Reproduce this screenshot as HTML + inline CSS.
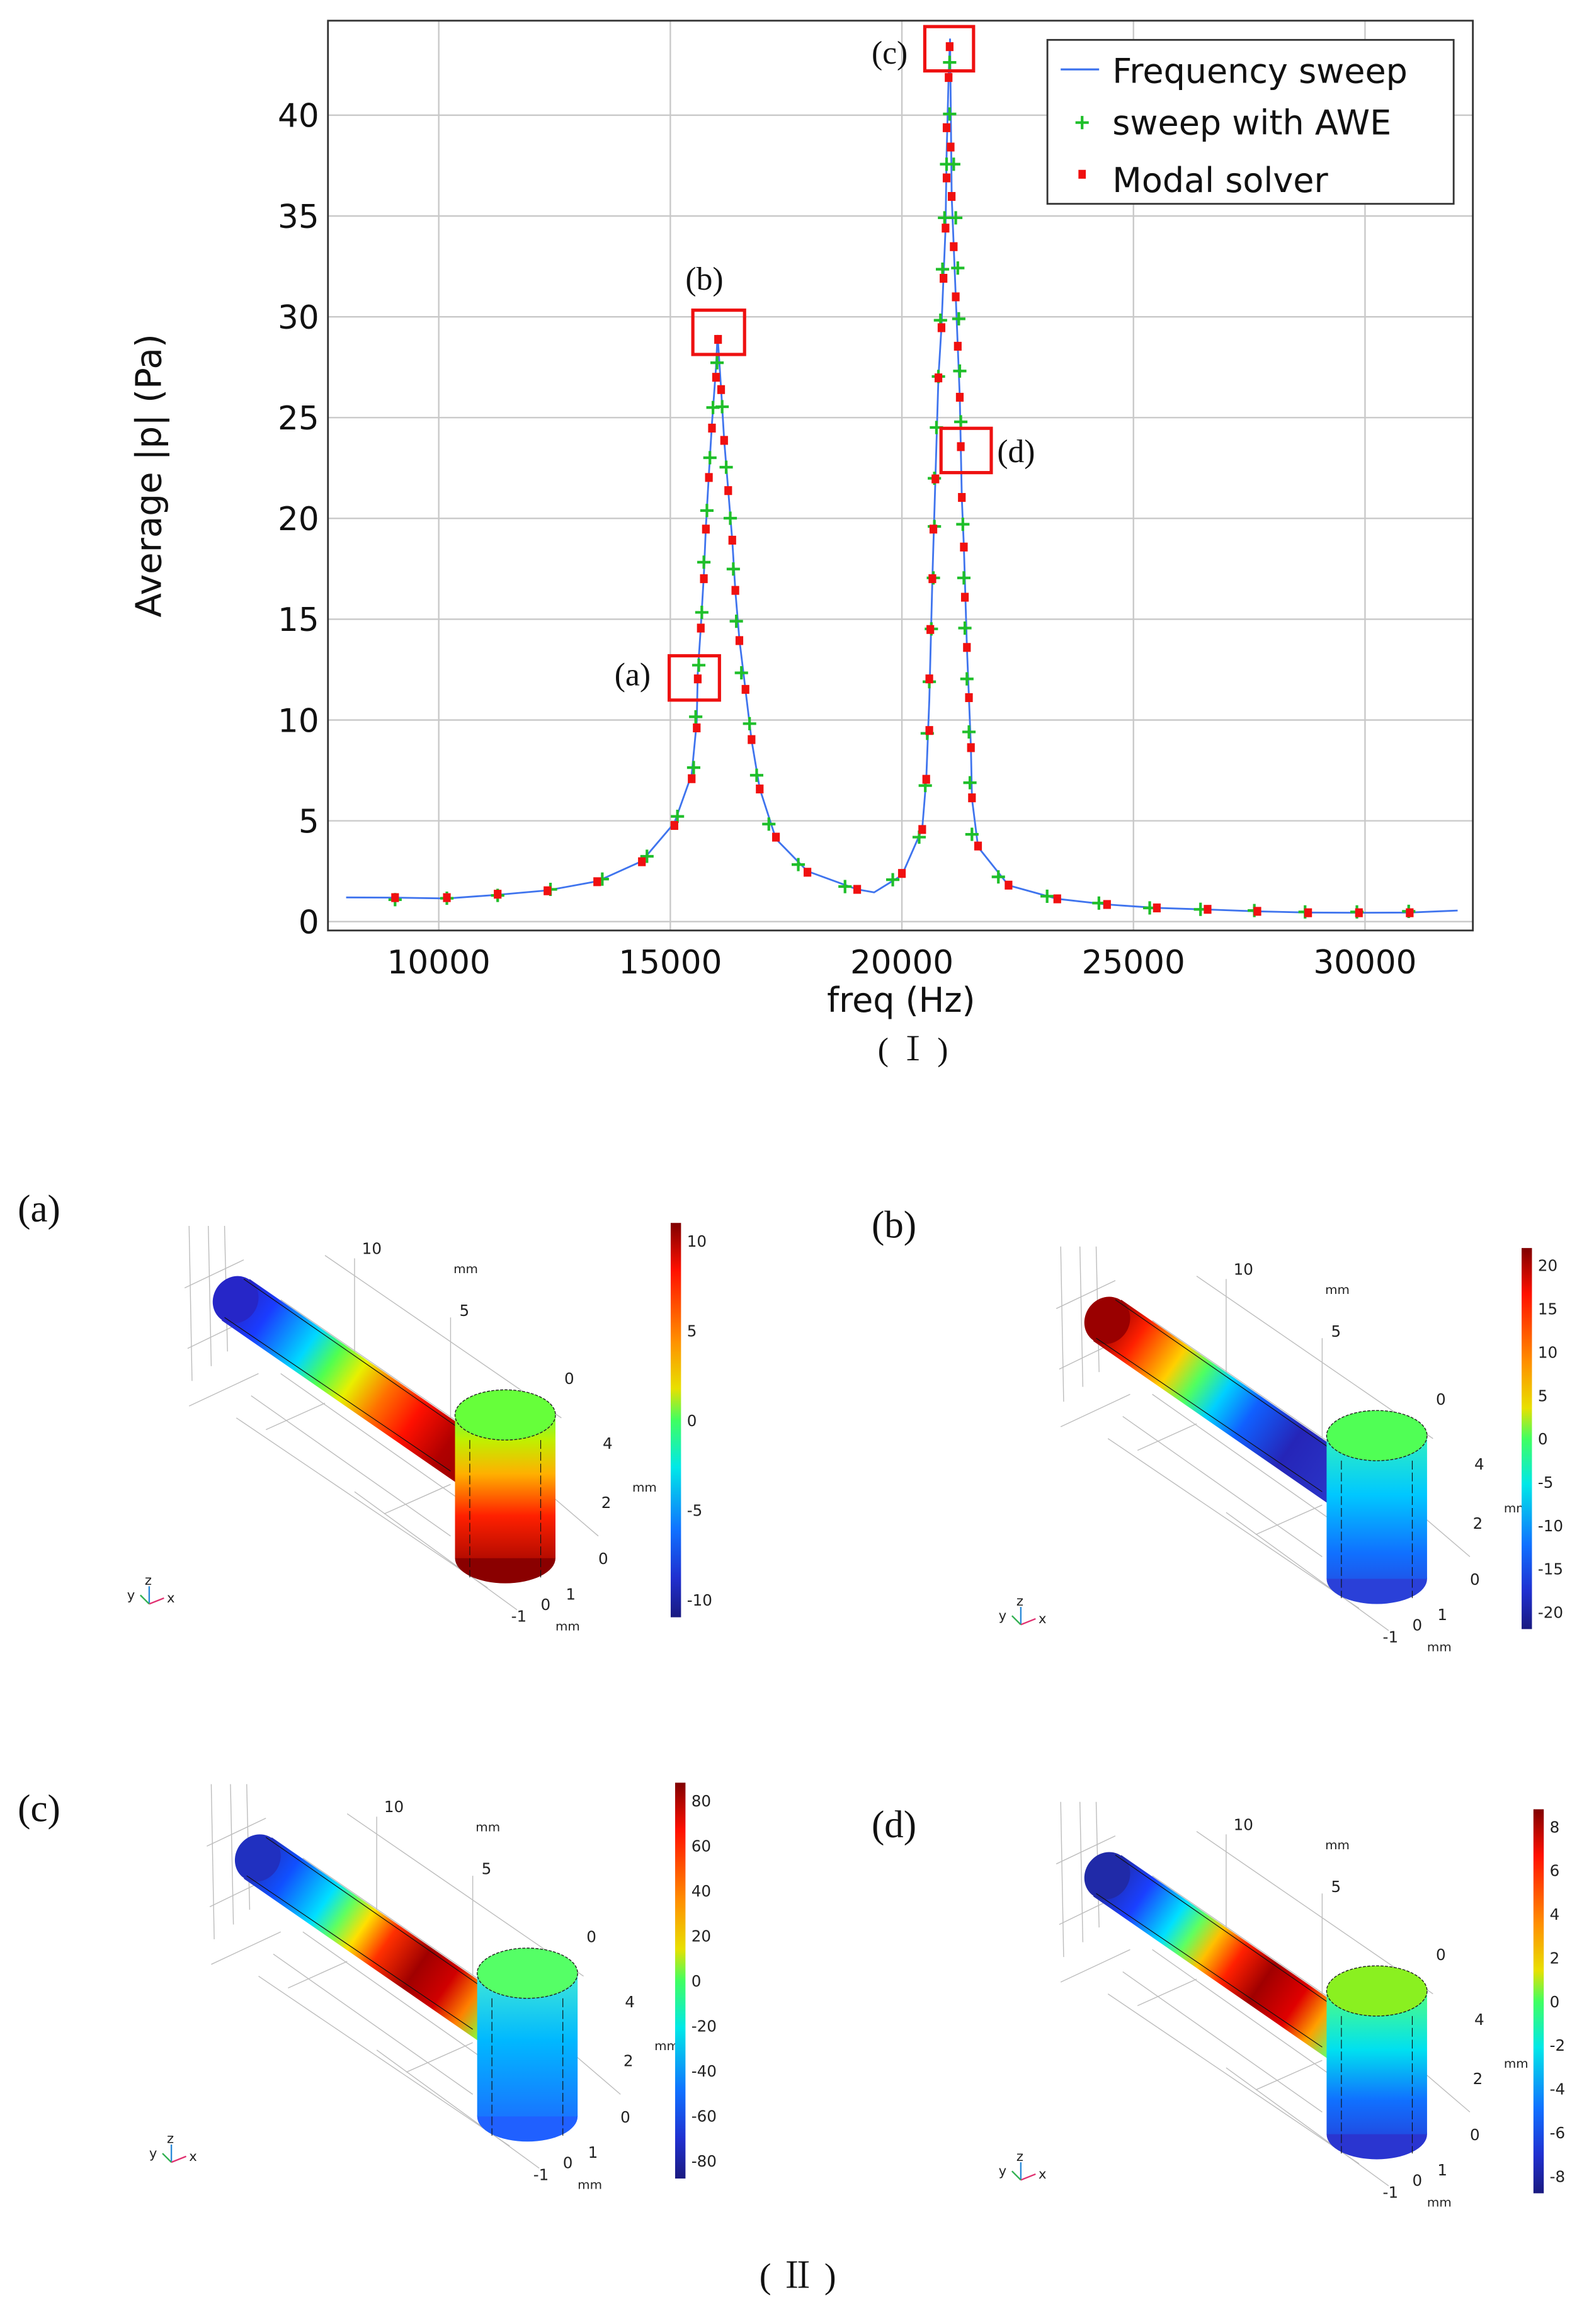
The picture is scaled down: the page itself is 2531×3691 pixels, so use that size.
<!DOCTYPE html>
<html><head><meta charset="utf-8">
<style>
html,body{margin:0;padding:0;background:#fff;}
svg{display:block;}
text{font-family:"DejaVu Sans","Liberation Sans",sans-serif;}
.serif{font-family:"Liberation Serif","Noto Serif CJK SC",serif;}
</style></head>
<body>
<svg id="root" xmlns="http://www.w3.org/2000/svg" width="2531" height="3691" viewBox="0 0 1079 1573.5" preserveAspectRatio="none">
<rect x="0" y="0" width="1079" height="1573.5" fill="#fff"/>
<g id="chart"></g>
<g id="panels"></g>
<defs id="defs"></defs>
</svg>
<script>
// ---------- chart data ----------
const freqTicks = [10000, 15000, 20000, 25000, 30000];
const pTicks = [0, 5, 10, 15, 20, 25, 30, 35, 40];
const lineFreq = [8000,9057,10175,11272,12347,13421,14386,15088,15461,15570,15592,15658,15724,15768,15833,15899,15987,16020,16097,16162,16250,16338,16404,16491,16623,16754,16930,17281,17961,19035,19400,20000,20439,20526,20592,20658,20724,20789,20855,20899,20943,20965,21009,21040,21075,21119,21163,21207,21250,21294,21338,21404,21448,21491,21513,21645,22303,23355,24430,25505,26601,27676,28772,29869,30965,32000];
const lineP = [1.2,1.19,1.15,1.33,1.55,2.0,3.0,4.9,7.3,9.9,12.3,14.6,17.2,19.6,22.2,24.7,27.5,29.1,26.4,23.9,21.4,18.9,16.4,14.0,11.5,9.0,6.6,4.1,2.5,1.6,1.45,2.3,4.6,7.06,11.0,17.0,22.0,27.0,29.5,32.0,34.4,38.0,41.9,43.8,36.0,33.5,31.0,28.5,26.0,21.0,18.6,13.6,11.1,8.6,6.1,3.7,1.8,1.13,0.85,0.68,0.6,0.51,0.45,0.44,0.45,0.55];
const aweFreq = [9057,10175,11272,12412,13531,14496,15154,15504,15548,15614,15680,15724,15790,15855,15921,16009,16119,16206,16294,16360,16425,16535,16711,16864,17127,17763,18772,19803,20373,20505,20548,20592,20636,20680,20702,20702,20746,20789,20833,20877,20921,20965,21031,21031,21119,21163,21207,21228,21250,21272,21316,21338,21360,21404,21448,21469,21513,22083,23136,24254,25351,26448,27610,28706,29825,30943];
const aweP = [1.09,1.16,1.30,1.60,2.11,3.24,5.22,7.64,10.16,12.72,15.34,17.83,20.39,23.01,25.5,27.72,25.54,22.54,20.01,17.49,14.9,12.34,9.82,7.26,4.84,2.83,1.74,2.08,4.19,6.75,9.34,11.9,14.52,17.05,19.6,21.99,24.51,27.04,29.83,32.36,34.91,37.57,40.06,42.62,37.57,34.91,32.42,29.9,27.31,24.79,19.71,17.05,14.56,12.04,9.41,6.89,4.33,2.22,1.26,0.92,0.68,0.61,0.55,0.48,0.48,0.51];
const modalFreq = [9057,10175,11272,12347,13421,14386,15088,15461,15570,15592,15658,15724,15768,15833,15899,15987,16031,16097,16162,16250,16338,16404,16491,16623,16754,16930,17281,17961,19035,20000,20439,20526,20592,20592,20614,20658,20680,20724,20789,20855,20899,20943,20965,20965,21009,21031,21053,21075,21119,21163,21207,21250,21272,21294,21338,21360,21404,21448,21491,21513,21645,22303,23355,24430,25505,26601,27676,28772,29869,30965];
const modalP = [1.19,1.19,1.36,1.53,1.98,2.97,4.77,7.09,9.61,12.04,14.56,17.01,19.47,22.03,24.48,27.0,28.88,26.39,23.87,21.38,18.92,16.43,13.94,11.52,9.03,6.58,4.19,2.45,1.6,2.39,4.57,7.06,9.48,12.04,14.49,17.01,19.47,21.96,26.97,29.46,31.91,34.4,36.89,39.38,41.87,43.4,38.42,35.97,33.48,30.99,28.54,26.01,23.56,21.04,18.58,16.09,13.6,11.11,8.63,6.14,3.75,1.81,1.13,0.85,0.68,0.61,0.51,0.44,0.44,0.44];

const NS = "http://www.w3.org/2000/svg";
function mk(tag, attrs, parent, txt){
  const e = document.createElementNS(NS, tag);
  for (const k in attrs) e.setAttribute(k, attrs[k]);
  if (txt !== undefined) e.textContent = txt;
  parent.appendChild(e);
  return e;
}
const PL = 222, PR = 997, PT = 14, PB = 630;
function xs(f){ return 297 + (f - 10000) / 5000 * 156.75; }
function ys(v){ return 624 - v * 13.65; }

const chart = document.getElementById('chart');
let bg = mk('rect', {x:PL, y:PT, width:PR-PL, height:PB-PT, fill:'#fff'}, chart);


freqTicks.forEach(f => {
  const x = xs(f);
  const l = mk('line', {x1:x, y1:PT, x2:x, y2:PB, stroke:'#c8c8c8', 'stroke-width':1}, chart);
  
  
  const t = mk('text', {x:x, y:659, 'font-size':22, 'text-anchor':'middle', fill:'#111'}, chart, String(f));
  
  
});
pTicks.forEach(v => {
  const y = ys(v);
  const l = mk('line', {x1:PL, y1:y, x2:PR, y2:y, stroke:'#c8c8c8', 'stroke-width':1}, chart);
  
  
  const t = mk('text', {x:216, y:y+8, 'font-size':22, 'text-anchor':'end', fill:'#111'}, chart, String(v));
  
  
});
let frame = mk('rect', {x:PL, y:PT, width:PR-PL, height:PB-PT, fill:'none', stroke:'#333', 'stroke-width':1.2}, chart);



let d = '';
lineFreq.forEach((f,i) => { d += (i ? 'L' : 'M') + xs(f).toFixed(2) + ' ' + ys(lineP[i]).toFixed(2); });
let path = mk('path', {d:d, fill:'none', stroke:'#3f74ee', 'stroke-width':1.2}, chart);



aweFreq.forEach((f,i) => {
  const x = xs(f), y = ys(aweP[i]);
  const p = mk('path', {d:`M${x-4.5} ${y}H${x+4.5}M${x} ${y-4.5}V${y+4.5}`, stroke:'#1fbf2a', 'stroke-width':1.8}, chart);
  
  
});
modalFreq.forEach((f,i) => {
  const x = xs(f), y = ys(modalP[i]);
  const r = mk('rect', {x:x-2.6, y:y-3, width:5.2, height:6, fill:'#f01010'}, chart);
  
  
});

const boxes = [
  ['a', 453, 444, 34, 30, 416, 464],
  ['b', 469, 210, 35, 30, 464, 196],
  ['c', 626, 18, 33, 30, 590, 43],
  ['d', 637, 290, 34, 30, 675, 313]
];
boxes.forEach(b => {
  const r = mk('rect', {x:b[1], y:b[2], width:b[3], height:b[4], fill:'none', stroke:'#ee1111', 'stroke-width':2.2}, chart);
  
  
  const t = mk('text', {x:b[5], y:b[6], 'font-size':22, class:'serif', fill:'#111'}, chart, '(' + b[0] + ')');
  
  
});

const lg = mk('g', {}, chart);


mk('rect', {x:709, y:27, width:275, height:111, fill:'#fff', stroke:'#333', 'stroke-width':1.2}, lg);
mk('line', {x1:718, y1:47, x2:744, y2:47, stroke:'#3f74ee', 'stroke-width':1.4}, lg);
mk('path', {d:'M728 83H737M732.5 78.5V87.5', stroke:'#1fbf2a', 'stroke-width':1.8}, lg);
mk('rect', {x:730, y:115, width:5, height:6, fill:'#f01010'}, lg);
let l1 = mk('text', {x:753, y:56, 'font-size':23, fill:'#111'}, lg, 'Frequency sweep');


let l2 = mk('text', {x:753, y:91, 'font-size':23, fill:'#111'}, lg, 'sweep with AWE');


let l3 = mk('text', {x:753, y:130, 'font-size':23, fill:'#111'}, lg, 'Modal solver');



let xt = mk('text', {x:610, y:685, 'font-size':23, 'text-anchor':'middle', fill:'#111'}, chart, 'freq (Hz)');


let yt = mk('text', {x:0, y:0, 'font-size':24, 'text-anchor':'middle', fill:'#111', transform:'translate(109,322) rotate(-90)'}, chart, 'Average |p| (Pa)');


let cap1 = mk('text', {x:618, y:718, 'font-size':22, 'text-anchor':'middle', class:'serif', fill:'#111'}, chart, '( Ⅰ )');



// ---------- 3D panels ----------
const defs = document.getElementById('defs');
const panelsG = document.getElementById('panels');
const jet = [[0,'#800000'],[0.12,'#ff1000'],[0.3,'#ff9000'],[0.42,'#e8e000'],[0.5,'#40ff60'],[0.62,'#00e8e8'],[0.78,'#1070ff'],[0.9,'#2030d0'],[1,'#1a1a80']];
function grad(id, x1,y1,x2,y2, stops){
  const g = mk('linearGradient', {id:id, gradientUnits:'userSpaceOnUse', x1:x1, y1:y1, x2:x2, y2:y2}, defs);
  stops.forEach(s => mk('stop', {offset:s[0], 'stop-color':s[1]}, g));
}
const panelSpecs = [
  {id:'a', dx:0, dy:0, lab:[12,827], cb:[454,828,1095], cbTicks:['10','5','0','-5','-10'],
   tube:[[0,'#2626c8'],[0.12,'#1a3cff'],[0.3,'#00d8ff'],[0.4,'#50ff50'],[0.5,'#e8f000'],[0.62,'#ff7000'],[0.75,'#ff1000'],[0.9,'#b00000'],[1,'#a00000']],
   top:'#66ff3a', side:[[0,'#70ff40'],[0.15,'#c0f000'],[0.35,'#ffb000'],[0.6,'#ff2000'],[1,'#8a0000']]},
  {id:'b', dx:590, dy:14, lab:[590,838], cb:[1030,845,1103], cbTicks:['20','15','10','5','0','-5','-10','-15','-20'],
   tube:[[0,'#9a0000'],[0.12,'#ff2000'],[0.28,'#ffd000'],[0.38,'#50ff60'],[0.48,'#00d0ff'],[0.6,'#1060ff'],[0.78,'#2525b8'],[1,'#2a35c8']],
   top:'#50ff55', side:[[0,'#30f0c0'],[0.35,'#00c8ff'],[0.7,'#1070ff'],[1,'#2a40d8']]},
  {id:'c', dx:15, dy:378, lab:[12,1233], cb:[457,1207,1475], cbTicks:['80','60','40','20','0','-20','-40','-60','-80'],
   tube:[[0,'#2030c0'],[0.12,'#1050ff'],[0.28,'#00e0ff'],[0.36,'#60ff60'],[0.44,'#ffe000'],[0.54,'#ff3000'],[0.68,'#a00000'],[0.8,'#d00000'],[0.9,'#ff8000'],[1,'#80ff40']],
   top:'#55ff66', side:[[0,'#40e8d8'],[0.4,'#00b8ff'],[1,'#2060ff']]},
  {id:'d', dx:590, dy:390, lab:[590,1244], cb:[1038,1225,1485], cbTicks:['8','6','4','2','0','-2','-4','-6','-8'],
   tube:[[0,'#202aa8'],[0.14,'#1a40ff'],[0.28,'#00e0ff'],[0.36,'#60ff60'],[0.44,'#ffc000'],[0.54,'#ff2000'],[0.66,'#a00000'],[0.8,'#e00000'],[0.9,'#ffa000'],[1,'#60ff70']],
   top:'#8af020', side:[[0,'#50ff80'],[0.35,'#00e0f0'],[0.65,'#1070ff'],[1,'#2a35d0']]}
];
panelSpecs.forEach(s => {
  const g = mk('g', {transform:`translate(${s.dx},${s.dy})`}, panelsG);
  
  
  const gl = mk('g', {stroke:'#bdbdbd', 'stroke-width':0.6, fill:'none'}, g);
  [[128,830,130,935],[141,830,143,925],[152,830,154,915],[240,852,240,950],[305,892,305,1000]].forEach(p=>mk('line',{x1:p[0],y1:p[1],x2:p[2],y2:p[3]},gl));
  [[125,872,165,853],[127,913,160,897],[128,952,175,930],[180,968,220,950],[260,1025,305,1005]].forEach(p=>mk('line',{x1:p[0],y1:p[1],x2:p[2],y2:p[3]},gl));
  [[220,850,380,960],[190,880,335,980],[160,960,330,1075],[170,945,305,1040],[190,930,318,1020],[205,915,320,995],[240,1010,350,1090],[370,1010,405,1040]].forEach(p=>mk('line',{x1:p[0],y1:p[1],x2:p[2],y2:p[3]},gl));
  grad('tube'+s.id, 160, 880, 318, 990, s.tube);
  const tube = mk('path', {d:'M169 866 L328 976 L309 1004 L150 894 Z', fill:`url(#tube${s.id})`}, g);
  
  
  mk('ellipse', {cx:159.5, cy:880, rx:15, ry:16.5, fill:s.tube[0][1], transform:'rotate(35 159.5 880)'}, g);
  mk('line', {x1:165, y1:866, x2:318, y2:972, stroke:'#111', 'stroke-width':0.5}, g);
  mk('line', {x1:152, y1:892, x2:305, y2:996, stroke:'#111', 'stroke-width':0.5}, g);
  grad('side'+s.id, 0, 958, 0, 1072, s.side);
  mk('ellipse', {cx:342, cy:1055, rx:34, ry:17, fill:s.side[s.side.length-1][1]}, g);
  const cyl = mk('rect', {x:308, y:958, width:68, height:97, fill:`url(#side${s.id})`}, g);
  
  
  mk('line', {x1:318, y1:975, x2:318, y2:1068, stroke:'#111', 'stroke-width':0.5, 'stroke-dasharray':'6 2'}, g);
  mk('line', {x1:366, y1:975, x2:366, y2:1068, stroke:'#111', 'stroke-width':0.5, 'stroke-dasharray':'6 2'}, g);
  mk('ellipse', {cx:342, cy:958, rx:34, ry:17, fill:s.top, stroke:'#222', 'stroke-width':0.6, 'stroke-dasharray':'2 1'}, g);
  [['10',245,849],['mm',307,862],['5',311,891],['0',382,937],['4',408,981],['2',407,1021],['mm',428,1010],['0',405,1059],['1',383,1083],['0',366,1090],['-1',346,1098],['mm',376,1104]].forEach(t=>{
    const e = mk('text', {x:t[1], y:t[2], 'font-size':t[0]==='mm'?8.5:10.5, fill:'#222'}, g, t[0]);
    
    
  });
  mk('line', {x1:101, y1:1086, x2:101, y2:1074, stroke:'#2a8ad8', 'stroke-width':1}, g);
  mk('line', {x1:101, y1:1086, x2:111, y2:1082, stroke:'#e03070', 'stroke-width':1}, g);
  mk('line', {x1:101, y1:1086, x2:95, y2:1080, stroke:'#30b050', 'stroke-width':1}, g);
  mk('text', {x:98, y:1073, 'font-size':9, fill:'#222'}, g, 'z');
  mk('text', {x:86, y:1083, 'font-size':9, fill:'#222'}, g, 'y');
  mk('text', {x:113, y:1085, 'font-size':9, fill:'#222'}, g, 'x');
  const lab = mk('text', {x:s.lab[0]-s.dx, y:s.lab[1]-s.dy, 'font-size':26, class:'serif', fill:'#111'}, g, '(' + s.id + ')');
  
  
  const cbx = s.cb[0]-s.dx, cbt = s.cb[1]-s.dy, cbb = s.cb[2]-s.dy;
  grad('cb'+s.id, 0, cbt, 0, cbb, jet);
  const cb = mk('rect', {x:cbx, y:cbt, width:7, height:cbb-cbt, fill:`url(#cb${s.id})`}, g);
  
  
  const n = s.cbTicks.length, pad = (cbb-cbt)*0.045;
  s.cbTicks.forEach((t,i)=>{
    const y = cbt + pad + i*((cbb-cbt-2*pad)/(n-1));
    const e = mk('text', {x:cbx+11, y:y+4, 'font-size':10.5, fill:'#222'}, g, t);
    
    
  });
});
let cap2 = mk('text', {x:540, y:1549, 'font-size':24, 'text-anchor':'middle', class:'serif', fill:'#111'}, panelsG, '( Ⅱ )');


</script>
</body></html>
